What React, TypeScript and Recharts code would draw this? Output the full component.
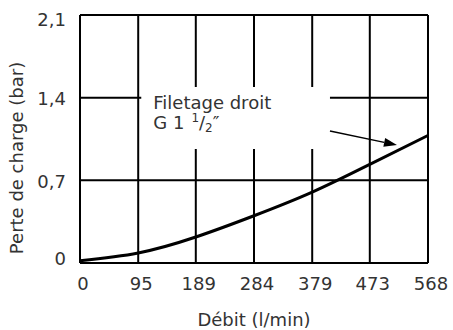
import { CartesianGrid, Line, LineChart, ReferenceArea, XAxis, YAxis } from "recharts";

const debitTicks = [0, 95, 189, 284, 379, 473, 568];
const perteTicks = [0, 0.7, 1.4, 2.1];
const debit = [0, 95, 189, 284, 379, 473, 568];
const perte = [0.02, 0.085, 0.22, 0.4, 0.6, 0.835, 1.08];

// white box behind the note, in data units
const noteX = [100, 408];
const noteY = [0.965, 1.49];

const data = debit.map((d, i) => ({ debit: d, perte: perte[i] }));

const FONT = "DejaVu Sans";
const INK = "#333";

function fmt(v: number) {
  return String(v).replace(".", ",");
}

function YTick({ x, y, payload }: any) {
  const v = payload.value as number;
  const shift = v === 2.1 ? 5 : v === 0 ? -4 : 1;
  return (
    <text x={x - 12} y={y + shift} dy="0.35em" textAnchor="end" fontSize={18} fontFamily={FONT} fill={INK}>
      {fmt(v)}
    </text>
  );
}

function XTick({ x, y, payload }: any) {
  return (
    <text x={x + 3} y={y + 19} dy="0.35em" textAnchor="middle" fontSize={18} fontFamily={FONT} fill={INK}>
      {payload.value}
    </text>
  );
}

function Note({ viewBox }: any) {
  const { x, y, width } = viewBox;
  const ax = x + width;
  const ay = y + 44;
  const tx = ax + 67;
  const ty = y + 58;
  const ang = Math.atan2(ty - ay, tx - ax);
  const len = 13;
  const half = 4.5;
  const bx = tx - len * Math.cos(ang);
  const by = ty - len * Math.sin(ang);
  const px = -Math.sin(ang) * half;
  const py = Math.cos(ang) * half;
  return (
    <g fontFamily={FONT} fill={INK}>
      <text x={x + 12} y={y + 22} fontSize={18}>
        Filetage droit
      </text>
      <text x={x + 12} y={y + 42} fontSize={18}>
        G 1
        <tspan fontSize={12} dx={7} dy={-7}>1</tspan>
        <tspan fontSize={18} dy={7}>/</tspan>
        <tspan fontSize={12} dy={3}>2</tspan>
        <tspan fontSize={18} dy={-3}>″</tspan>
      </text>
      <line x1={ax} y1={ay} x2={bx} y2={by} stroke="#000" strokeWidth={1.5} />
      <polygon points={`${tx},${ty} ${bx + px},${by + py} ${bx - px},${by - py}`} fill="#000" />
    </g>
  );
}

export default function App() {
  return (
    <div style={{ position: "absolute", left: 0, top: 0, width: 453, height: 330, background: "#fff" }}>
      <LineChart width={453} height={330} data={data} margin={{ top: 15, right: 25, bottom: 0, left: 0 }}>
        <CartesianGrid stroke="#000" strokeWidth={2} />
        <XAxis
          dataKey="debit"
          type="number"
          domain={[0, 568]}
          ticks={debitTicks}
          height={67}
          axisLine={false}
          tickLine={false}
          tickSize={0}
          tick={<XTick />}
          interval={0}
          label={{
            value: "Débit (l/min)",
            position: "insideBottom",
            offset: 4,
            fontSize: 18,
            fontFamily: FONT,
            fill: INK,
          }}
        />
        <YAxis
          type="number"
          domain={[0, 2.1]}
          ticks={perteTicks}
          width={80}
          axisLine={false}
          tickLine={false}
          tickSize={0}
          tick={<YTick />}
          interval={0}
          label={{
            value: "Perte de charge (bar)",
            angle: -90,
            position: "insideLeft",
            dx: 12,
            dy: 19,
            style: { textAnchor: "middle" },
            fontSize: 18,
            fontFamily: FONT,
            fill: INK,
          }}
        />
        <ReferenceArea
          x1={noteX[0]}
          x2={noteX[1]}
          y1={noteY[0]}
          y2={noteY[1]}
          fill="#fff"
          fillOpacity={1}
          stroke="none"
          label={<Note />}
        />
        <Line
          type="natural"
          dataKey="perte"
          stroke="#000"
          strokeWidth={3}
          dot={false}
          isAnimationActive={false}
        />
      </LineChart>
    </div>
  );
}
